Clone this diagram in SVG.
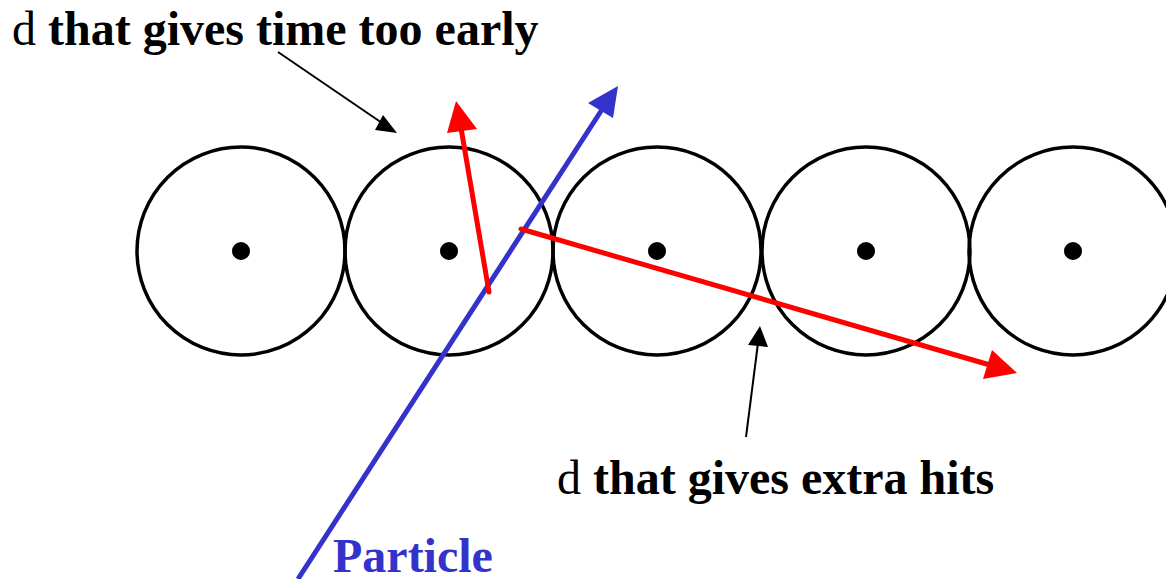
<svg xmlns="http://www.w3.org/2000/svg" width="1166" height="579" viewBox="0 0 1166 579">
<style>
.tube{fill:none;stroke:#000;stroke-width:3.5}
.wire{fill:#000}
.lbl{font-family:"Liberation Serif","Times New Roman",serif;font-size:48px;font-weight:bold;fill:#000}
.d{font-weight:normal}
</style>
<rect width="1166" height="579" fill="#fff"/>
<g id="tube1"><circle class="tube" cx="241" cy="251" r="104"/><circle class="wire" cx="241" cy="251" r="9"/></g>
<g id="tube2"><circle class="tube" cx="449" cy="251" r="104"/><circle class="wire" cx="449" cy="251" r="9"/></g>
<g id="tube3"><circle class="tube" cx="657" cy="251" r="104"/><circle class="wire" cx="657" cy="251" r="9"/></g>
<g id="tube4"><circle class="tube" cx="866" cy="251" r="104"/><circle class="wire" cx="866" cy="251" r="9"/></g>
<g id="tube5"><circle class="tube" cx="1073" cy="251" r="104"/><circle class="wire" cx="1073" cy="251" r="9"/></g>
<g id="connectors">
<line x1="298" y1="579" x2="603" y2="108" stroke="#3333CC" stroke-width="5"/>
<polygon points="618,86 588,103 613,118" fill="#3333CC"/>
<line x1="489" y1="292" x2="461" y2="128" stroke="#FF0000" stroke-width="5" stroke-linecap="round"/>
<polygon points="456,101 447,133 477,129" fill="#FF0000"/>
<line x1="521" y1="229" x2="990" y2="365" stroke="#FF0000" stroke-width="5" stroke-linecap="round"/>
<polygon points="1017,373 992,350 983,379" fill="#FF0000"/>
<line x1="278" y1="52" x2="385" y2="125" stroke="#000" stroke-width="2"/>
<polygon points="397,133 383,115 375,130" fill="#000"/>
<line x1="746" y1="437" x2="758" y2="343" stroke="#000" stroke-width="2"/>
<polygon points="760,326 748,345 768,347" fill="#000"/>
</g>
<text class="lbl" x="12" y="45"><tspan class="d">d</tspan> that gives time too early</text>
<text class="lbl" x="557" y="494"><tspan class="d">d</tspan> that gives extra hits</text>
<text class="lbl" x="333" y="572" style="fill:#3333CC">Particle</text>
</svg>
